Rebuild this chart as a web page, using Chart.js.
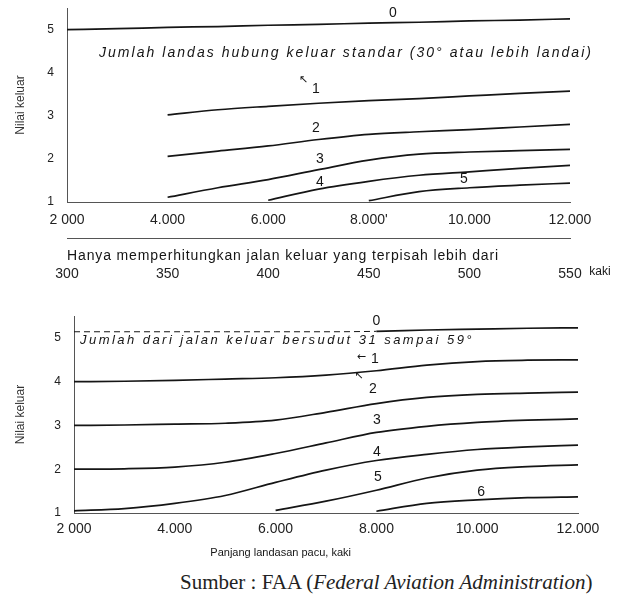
<!DOCTYPE html>
<html>
<head>
<meta charset="utf-8">
<script src="https://cdn.jsdelivr.net/npm/chart.js@4.4.1/dist/chart.umd.min.js"></script>
<style>
  body { margin: 0; background: #fff; }
  #wrap { position: relative; width: 620px; height: 604px; }
  #topBox { position: absolute; left: 0; top: 0; }
  #botBox { position: absolute; left: 0; top: 300px; }
  #source { position: absolute; left: 180px; top: 570px; font: 21px "Liberation Serif", "DejaVu Serif", serif; color: #222; white-space: nowrap; }
</style>
</head>
<body>
<div id="wrap">
  <div id="topBox"><canvas id="topChart" width="620" height="295"></canvas></div>
  <div id="botBox"><canvas id="botChart" width="620" height="265"></canvas></div>
  <div id="source">Sumber : FAA (<i>Federal Aviation Administration</i>)</div>
</div>
<script>
// runway length (ft) – shared x positions for every curve
const runwayLengths = [2000, 3000, 4000, 5000, 6000, 7000, 8000, 9000, 10000, 11000, 12000];

// top panel: standard exit taxiways (30 deg or flatter), exit value per number of exits
const top0 = [5.0, 5.02, 5.05, 5.07, 5.1, 5.12, 5.15, 5.17, 5.2, 5.22, 5.25];
const top1 = [null, null, 3.02, 3.14, 3.22, 3.29, 3.35, 3.4, 3.46, 3.52, 3.57];
const top2 = [null, null, 2.06, 2.18, 2.3, 2.45, 2.57, 2.63, 2.68, 2.74, 2.8];
const top3 = [null, null, 1.11, 1.33, 1.52, 1.75, 1.97, 2.11, 2.16, 2.19, 2.22];
const top4 = [null, null, null, null, 1.04, 1.3, 1.48, 1.62, 1.7, 1.78, 1.85];
const top5 = [null, null, null, null, null, null, 1.03, 1.24, 1.33, 1.39, 1.44];

// bottom panel: exits angled 31 to 59 deg
const bot0 = [5.14, 5.14, 5.14, 5.14, 5.14, 5.14, 5.15, 5.18, 5.2, 5.22, 5.23];
const bot1 = [4.0, 4.01, 4.03, 4.06, 4.09, 4.15, 4.25, 4.38, 4.46, 4.49, 4.5];
const bot2 = [3.0, 3.01, 3.03, 3.05, 3.12, 3.3, 3.5, 3.64, 3.71, 3.74, 3.76];
const bot3 = [2.0, 2.01, 2.05, 2.16, 2.36, 2.6, 2.84, 2.98, 3.07, 3.12, 3.15];
const bot4 = [1.05, 1.1, 1.22, 1.4, 1.7, 1.98, 2.2, 2.34, 2.45, 2.51, 2.55];
const bot5 = [null, null, null, null, 1.06, 1.27, 1.52, 1.8, 1.98, 2.06, 2.1];
const bot6 = [null, null, null, null, null, null, 1.04, 1.22, 1.3, 1.35, 1.37];

// tick labels
const lengthTicks = [2000, 4000, 6000, 8000, 10000, 12000];
const topLengthLabels = ['2 000', '4.000', '6.000', "8.000'", '10.000', '12.000'];
const botLengthLabels = ['2 000', '4.000', '6.000', '8.000', '10.000', '12.000'];
const spacingTicks = [300, 350, 400, 450, 500, 550];
const spacingLabels = ['300', '350', '400', '450', '500', '550'];
const valueTicks = [1, 2, 3, 4, 5];

const ink = '#151515';
const axisGray = '#555';
const sans = '"Liberation Sans", Arial, sans-serif';

function series(vals, extra) {
  return Object.assign({
    data: runwayLengths.map((x, i) => ({ x: x, y: vals[i] })),
    borderColor: ink,
    borderWidth: 1.7,
    pointRadius: 0,
    fill: false,
    cubicInterpolationMode: 'monotone'
  }, extra || {});
}

// draws curve numbers and notes; x/y in data units, px/py in canvas pixels
const notesPlugin = {
  id: 'notes',
  afterDatasetsDraw(chart, args, opts) {
    const ctx = chart.ctx;
    ctx.save();
    ctx.fillStyle = ink;
    ctx.textBaseline = 'middle';
    opts.items.forEach(it => {
      ctx.font = it.font || '14px ' + sans;
      ctx.textAlign = it.align || 'center';
      ctx.letterSpacing = '0px';
      if (it.width) {
        const w = ctx.measureText(it.text).width;
        ctx.letterSpacing = ((it.width - w) / it.text.length) + 'px';
      }
      const xs = chart.scales[it.scale || 'x'];
      const px = it.px != null ? it.px : xs.getPixelForValue(it.x) + (it.dx || 0);
      const py = it.py != null ? it.py : chart.scales.y.getPixelForValue(it.y);
      ctx.fillText(it.text, px, py);
    });
    ctx.restore();
  }
};

const dashBorder = { display: true, color: axisGray, dash: [5, 3], width: 1 };
const tickFont = { family: sans, size: 14 };

function valueAxis(width) {
  return {
    min: 1, max: 5.5,
    afterBuildTicks: s => { s.ticks = valueTicks.map(v => ({ value: v })); },
    ticks: { font: { family: sans, size: 12 }, color: '#222', padding: 0 },
    grid: { display: true, drawOnChartArea: false, drawTicks: true, tickLength: 13, tickColor: 'rgba(0,0,0,0)' },
    border: dashBorder,
    title: { display: true, text: 'Nilai keluar', color: '#333', font: { family: sans, size: 12 }, padding: { top: 13, bottom: 0 } },
    afterFit: s => { s.width = width; }
  };
}

new Chart(document.getElementById('topChart'), {
  type: 'line',
  data: {
    datasets: [series(top0), series(top1), series(top2), series(top3), series(top4), series(top5)]
  },
  options: {
    responsive: false,
    animation: false,
    devicePixelRatio: 1,
    layout: { padding: { top: 8, right: 50, left: 0, bottom: 0 } },
    plugins: {
      legend: { display: false },
      tooltip: { enabled: false },
      notes: {
        items: [
          { text: '0', x: 8480, y: 5.38 },
          { text: '↖', x: 6700, y: 3.82, font: '11px "DejaVu Sans", sans-serif' },
          { text: '1', x: 6950, y: 3.62 },
          { text: '2', x: 6950, y: 2.72 },
          { text: '3', x: 7030, y: 1.99 },
          { text: '4', x: 7030, y: 1.47 },
          { text: '5', x: 9890, y: 1.53 },
          { text: 'Jumlah landas hubung keluar standar (30° atau lebih landai)', px: 99, py: 53, align: 'left', width: 494,
            font: 'italic 14px ' + sans },
          { text: 'Hanya memperhitungkan jalan keluar yang terpisah lebih dari', px: 67, py: 256, align: 'left', width: 432,
            font: '14px ' + sans },
          { text: 'kaki', scale: 'x2', x: 550, dx: 30, py: 272, font: '12px ' + sans }
        ]
      }
    },
    scales: {
      x: {
        type: 'linear', position: 'bottom', weight: 0, min: 2000, max: 12000,
        afterBuildTicks: s => { s.ticks = lengthTicks.map(v => ({ value: v })); },
        ticks: { callback: v => topLengthLabels[lengthTicks.indexOf(v)], font: tickFont, color: '#222', padding: 10, maxRotation: 0, autoSkip: false },
        grid: { display: false, drawTicks: false },
        border: dashBorder,
        afterFit: s => { s.height = 36; }
      },
      x2: {
        type: 'linear', position: 'bottom', weight: 1, min: 300, max: 550,
        afterBuildTicks: s => { s.ticks = spacingTicks.map(v => ({ value: v })); },
        ticks: { callback: v => spacingLabels[spacingTicks.indexOf(v)], font: tickFont, color: '#222', padding: 28, maxRotation: 0, autoSkip: false },
        grid: { display: false, drawTicks: false },
        border: dashBorder,
        afterFit: s => { s.height = 57; }
      },
      y: valueAxis(67)
    }
  },
  plugins: [notesPlugin]
});

new Chart(document.getElementById('botChart'), {
  type: 'line',
  data: {
    datasets: [
      series(bot0, { segment: { borderDash: c => (c.p1.parsed.x <= 8000 ? [6, 4] : undefined), borderWidth: c => (c.p1.parsed.x <= 8000 ? 1 : 1.7) } }),
      series(bot1), series(bot2), series(bot3), series(bot4), series(bot5), series(bot6)
    ]
  },
  options: {
    responsive: false,
    animation: false,
    devicePixelRatio: 1,
    layout: { padding: { top: 16, right: 42, left: 0, bottom: 0 } },
    plugins: {
      legend: { display: false },
      tooltip: { enabled: false },
      notes: {
        items: [
          { text: '0', x: 8000, y: 5.38 },
          { text: '←', x: 7700, y: 4.57, font: '11px "DejaVu Sans", sans-serif' },
          { text: '1', x: 7970, y: 4.52 },
          { text: '↖', x: 7650, y: 4.12, font: '11px "DejaVu Sans", sans-serif' },
          { text: '2', x: 7930, y: 3.82 },
          { text: '3', x: 8010, y: 3.12 },
          { text: '4', x: 8010, y: 2.39 },
          { text: '5', x: 8030, y: 1.82 },
          { text: '6', x: 10080, y: 1.48 },
          { text: 'Jumlah dari jalan keluar bersudut 31 sampai 59°', px: 80, py: 40, align: 'left', width: 394,
            font: 'italic 13px ' + sans },
          { text: 'Panjang landasan pacu, kaki', x: 6100, py: 253, font: '11px ' + sans }
        ]
      }
    },
    scales: {
      x: {
        type: 'linear', position: 'bottom', min: 2000, max: 12000,
        afterBuildTicks: s => { s.ticks = lengthTicks.map(v => ({ value: v })); },
        ticks: { callback: v => botLengthLabels[lengthTicks.indexOf(v)], font: tickFont, color: '#222', padding: 8, maxRotation: 0, autoSkip: false },
        grid: { display: false, drawTicks: false },
        border: dashBorder,
        afterFit: s => { s.height = 52; }
      },
      y: valueAxis(74)
    }
  },
  plugins: [notesPlugin]
});
</script>
</body>
</html>
